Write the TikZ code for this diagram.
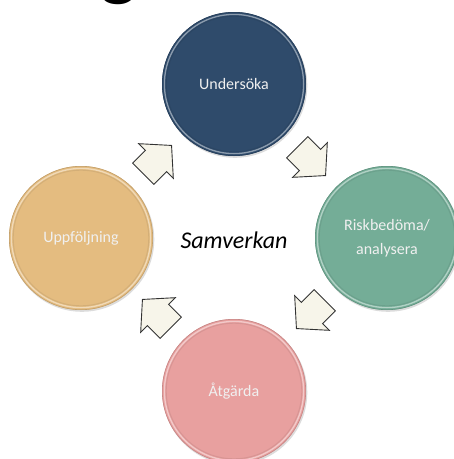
\documentclass[tikz,border=0pt]{standalone}
\usepackage{fontspec}
\setmainfont{Carlito}
\begin{document}
\begin{tikzpicture}[x=1pt,y=-1pt,
  stage/.style={circle,minimum size=144pt,inner sep=0pt,align=center,
    text=white!94!black,font=\fontsize{16}{24}\selectfont},
  cyclearrow/.style={fill=arrowfill,draw=black!80,line width=0.9pt,line join=miter}]
\definecolor{cblue}{HTML}{2F4B6B}
\definecolor{cgreen}{HTML}{74AD97}
\definecolor{cpink}{HTML}{E8A09F}
\definecolor{ctan}{HTML}{E4BC80}
\definecolor{arrowfill}{HTML}{F7F5EA}
\useasboundingbox (0,0) rectangle (454,459);
% partial title glyph at the top edge
\node[anchor=base,inner sep=0pt,font=\fontsize{78}{78}\selectfont\bfseries] (title) at (119,-9) {g};
% stages
\foreach \nm/\cx/\cy/\col in {top/234/84/cblue,right/387/238/cgreen,bottom/234/391/cpink,left/81/238/ctan}{
  \fill[black!30,opacity=0.45] (\cx+1,\cy+1.5) circle (72.3);
  \fill[\col] (\cx,\cy) circle (72);
  \draw[\col!85!black,line width=0.6pt] (\cx,\cy) circle (71.7);
  \draw[white,opacity=0.45,line width=1.3pt] (\cx,\cy) circle (69.6);
  \draw[\col!80!black,opacity=0.35,line width=1pt] (\cx,\cy) circle (67.8);
}
\node[stage] (s1) at (234,84) {Undersöka};
\node[stage] (s2) at (387,238) {Riskbedöma/\\analysera};
\node[stage] (s3) at (234,391) {Åtgärda};
\node[stage] (s4) at (81,238) {Uppföljning};
\node[font=\fontsize{24}{28}\selectfont\itshape] (center) at (234,240) {Samverkan};
% block arrows between stages
\foreach \bx/\by/\ang in {156/161/45,310/160/-45,312/313/-135,158/315/135}{
  \begin{scope}[shift={(\bx,\by)},rotate=\ang]
    \draw[cyclearrow] (22,0) -- (0,-24.5) -- (0,-15) -- (-18,-15) -- (-18,15) -- (0,15) -- (0,24.5) -- cycle;
  \end{scope}
}
\end{tikzpicture}
\end{document}
